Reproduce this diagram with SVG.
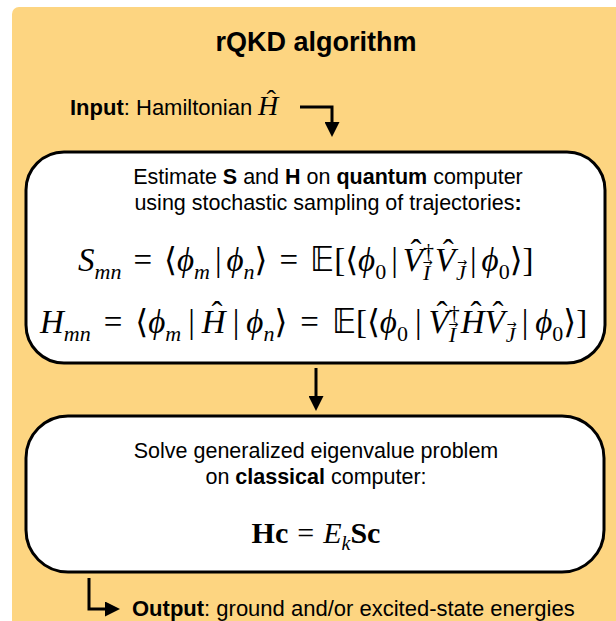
<svg xmlns="http://www.w3.org/2000/svg" width="616" height="621" viewBox="0 0 616 621">
<defs>
<style>
.bg{fill:#FDD581}
.box{fill:#fff;stroke:#000;stroke-width:3}
.title{font-family:"Liberation Sans",Arial,sans-serif;font-weight:bold;font-size:27px;fill:#000}
.io{font-family:"Liberation Sans",Arial,sans-serif;font-size:22px;fill:#000}
.body{font-family:"Liberation Sans",Arial,sans-serif;font-size:21.5px;fill:#000}
.b{font-weight:bold}
.eq{font-family:"Liberation Serif","DejaVu Serif",serif;font-size:33px;fill:#000}
.eqc{font-family:"Liberation Serif","DejaVu Serif",serif;font-size:30px;fill:#000}
.i{font-style:italic}
.s{font-size:22px}
.s2{font-size:20px}
.arr{font-family:"DejaVu Sans",sans-serif;font-size:12px;font-style:normal}
.bb{font-family:"DejaVu Sans","DejaVu Serif",sans-serif;font-style:normal}
.conn{fill:none;stroke:#000;stroke-width:3}
</style>
<marker id="ah" viewBox="0 0 10 10" refX="6" refY="5" markerWidth="5" markerHeight="5" orient="auto" markerUnits="strokeWidth">
<path d="M0,0 L10,5 L0,10 z" fill="#000"/>
</marker>
</defs>
<rect class="bg" x="12" y="7" width="640" height="660" rx="7"/>
<text class="title" x="316" y="51" text-anchor="middle">rQKD algorithm</text>
<g id="input">
<text class="io" x="70" y="115"><tspan class="b">Input</tspan>: Hamiltonian</text>
<text class="eq" x="258" y="115" style="font-size:28px"><tspan class="i">H</tspan><tspan dx="-11.8" dy="-6">ˆ</tspan></text>
</g>
<g id="connectors">
<path class="conn" d="M300,107 H332 V131" marker-end="url(#ah)"/>
<path class="conn" d="M316,368 V405" marker-end="url(#ah)"/>
<path class="conn" d="M89,578 V609 H114" marker-end="url(#ah)"/>
</g>
<g id="quantum">
<rect class="box" x="26" y="152" width="579" height="211" rx="38"/>
<text class="body" x="328" y="184" text-anchor="middle">Estimate <tspan class="b">S</tspan> and <tspan class="b">H</tspan> on <tspan class="b">quantum</tspan> computer</text>
<text class="body" x="328" y="210" text-anchor="middle">using stochastic sampling of trajectories<tspan class="b">:</tspan></text>
<text class="eq" x="78" y="271"><tspan class="i">S</tspan><tspan class="i s" dy="8">mn</tspan><tspan dy="-8" dx="12">=</tspan><tspan dx="12">⟨</tspan><tspan class="i">ϕ</tspan><tspan class="i s" dy="8">m</tspan><tspan dy="-8" dx="5">|</tspan><tspan class="i" dx="5">ϕ</tspan><tspan class="i s" dy="8">n</tspan><tspan dy="-8">⟩</tspan><tspan dx="12">=</tspan><tspan dx="12" class="bb">𝔼</tspan><tspan>[⟨</tspan><tspan class="i">ϕ</tspan><tspan class="s" dy="8">0</tspan><tspan dy="-8" dx="5">|</tspan><tspan class="i" dx="5">V</tspan><tspan dx="-12.3" dy="-8">ˆ</tspan><tspan class="s" dx="1.3" dy="-5">†</tspan><tspan class="i s" dx="-11" dy="22">I</tspan><tspan class="arr" dx="-7.7" dy="-14">→</tspan><tspan class="i" dx="2.3" dy="5">V</tspan><tspan dx="-12.3" dy="-8">ˆ</tspan><tspan class="i s" dx="2.3" dy="17">J</tspan><tspan class="arr" dx="-8.9" dy="-14">→</tspan><tspan dx="3" dy="5">|</tspan><tspan class="i" dx="5">ϕ</tspan><tspan class="s" dy="8">0</tspan><tspan dy="-8">⟩]</tspan></text>
<text class="eq" x="40" y="333"><tspan class="i">H</tspan><tspan class="i s" dy="8">mn</tspan><tspan dy="-8" dx="13">=</tspan><tspan dx="13">⟨</tspan><tspan class="i">ϕ</tspan><tspan class="i s" dy="8">m</tspan><tspan dy="-8" dx="7">|</tspan><tspan class="i" dx="7">H</tspan><tspan dx="-14.1" dy="-8">ˆ</tspan><tspan dx="10.1" dy="8">|</tspan><tspan class="i" dx="7">ϕ</tspan><tspan class="i s" dy="8">n</tspan><tspan dy="-8">⟩</tspan><tspan dx="13">=</tspan><tspan dx="13" class="bb">𝔼</tspan><tspan>[⟨</tspan><tspan class="i">ϕ</tspan><tspan class="s" dy="8">0</tspan><tspan dy="-8" dx="7">|</tspan><tspan class="i" dx="7">V</tspan><tspan dx="-12.3" dy="-8">ˆ</tspan><tspan class="s" dx="1.3" dy="-5">†</tspan><tspan class="i s" dx="-11" dy="22">I</tspan><tspan class="arr" dx="-7.7" dy="-14">→</tspan><tspan class="i" dx="2.3" dy="5">H</tspan><tspan dx="-14.1" dy="-8">ˆ</tspan><tspan class="i" dx="3.1" dy="8">V</tspan><tspan dx="-12.3" dy="-8">ˆ</tspan><tspan class="i s" dx="2.3" dy="17">J</tspan><tspan class="arr" dx="-8.9" dy="-14">→</tspan><tspan dx="5" dy="5">|</tspan><tspan class="i" dx="7">ϕ</tspan><tspan class="s" dy="8">0</tspan><tspan dy="-8">⟩]</tspan></text>
</g>
<g id="classical">
<rect class="box" x="26" y="416" width="578" height="156" rx="42"/>
<text class="body" x="316" y="458" text-anchor="middle">Solve generalized eigenvalue problem</text>
<text class="body" x="316" y="484" text-anchor="middle">on <tspan class="b">classical</tspan> computer:</text>
<text class="eqc" x="316" y="543" text-anchor="middle"><tspan class="b">Hc</tspan><tspan dx="9">=</tspan><tspan dx="9" class="i">E</tspan><tspan class="i s2" dy="7">k</tspan><tspan dy="-7" class="b">Sc</tspan></text>
</g>
<g id="output">
<text class="io" x="132" y="616"><tspan class="b">Output</tspan>: ground and/or excited-state energies</text>
</g>
</svg>
